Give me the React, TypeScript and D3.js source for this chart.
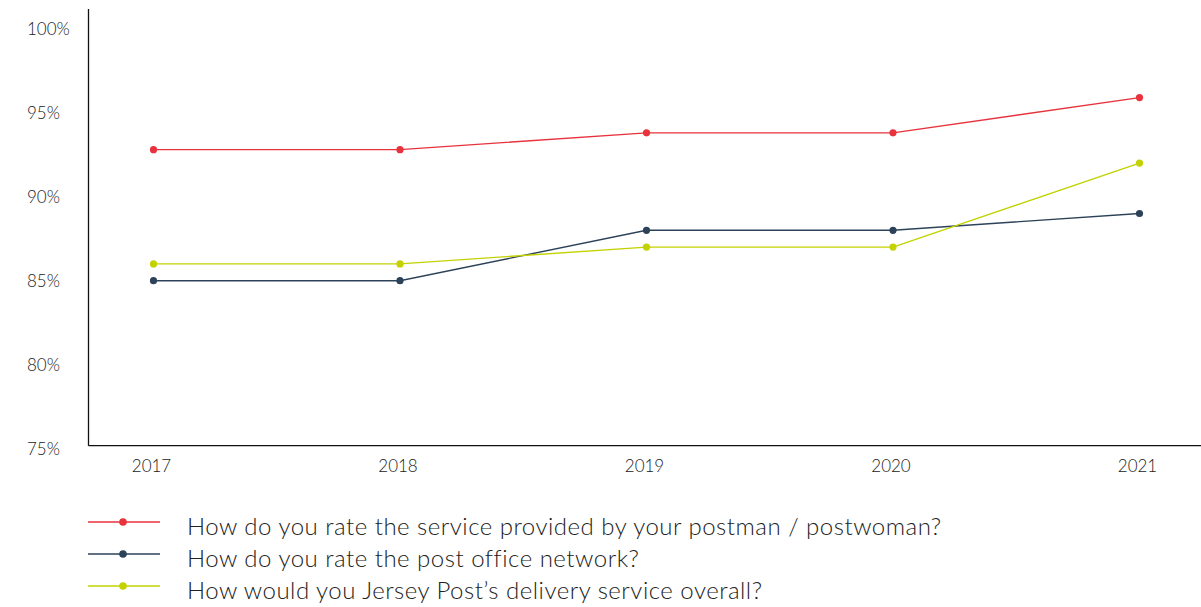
import React from "react";
import * as d3 from "d3";

const years = ["2017", "2018", "2019", "2020", "2021"];
const postmanScores = [92.8, 92.8, 93.8, 93.8, 95.9];
const postOfficeScores = [85, 85, 88, 88, 89];
const overallScores = [86, 86, 87, 87, 92];
const yTicks = [75, 80, 85, 90, 95, 100];

const seriesNames = [
  "How do you rate the service provided by your postman / postwoman?",
  "How do you rate the post office network?",
  "How would you Jersey Post\u2019s delivery service overall?",
];
const seriesColors = ["#e8323c", "#2c4258", "#c3d200"];

const W = 1201;
const H = 607;
const FONT = "Lato, 'Open Sans', sans-serif";

export default function App() {
  const series = [postmanScores, postOfficeScores, overallScores];

  const x = d3
    .scalePoint<string>()
    .domain(years)
    .range([153.5, 1139.5]);
  const y = d3.scaleLinear().domain([75, 100]).range([448.7, 28.7]);

  const axisLeft = 88.5;
  const axisBottom = y(75) - 3; // baseline sits just above the 75% label
  const axisTop = 9;

  const line = d3
    .line<number>()
    .x((_, i) => x(years[i]) as number)
    .y((d) => y(d));

  const legendY = d3.scalePoint<number>().domain([0, 1, 2]).range([522, 586]);

  return (
    <svg
      width={W}
      height={H}
      style={{ position: "absolute", left: 0, top: 0, background: "#fff" }}
      fontFamily={FONT}
    >
      {/* axes */}
      <line x1={axisLeft} x2={axisLeft} y1={axisTop} y2={axisBottom} stroke="#111" strokeWidth={1.3} />
      <line x1={axisLeft} x2={W} y1={axisBottom} y2={axisBottom} stroke="#111" strokeWidth={1.3} />

      {yTicks.map((t) => (
        <text
          key={t}
          x={27}
          y={y(t)}
          dominantBaseline="central"
          fontSize={17}
          fontWeight={300}
          fill="#222"
        >
          {t}%
        </text>
      ))}

      {years.map((yr) => (
        <text
          key={yr}
          x={(x(yr) as number) - 2}
          y={465}
          dominantBaseline="central"
          textAnchor="middle"
          fontSize={17}
          fontWeight={300}
          fill="#222"
        >
          {yr}
        </text>
      ))}

      {/* series */}
      {series.map((vals, si) => (
        <g key={si}>
          <path d={line(vals) ?? ""} fill="none" stroke={seriesColors[si]} strokeWidth={1.4} />
          {vals.map((v, i) => (
            <circle key={i} cx={x(years[i])} cy={y(v)} r={3.6} fill={seriesColors[si]} />
          ))}
        </g>
      ))}

      {/* legend */}
      {seriesNames.map((name, si) => {
        const ly = legendY(si) as number;
        return (
          <g key={name}>
            <line x1={88} x2={160} y1={ly} y2={ly} stroke={seriesColors[si]} strokeWidth={1.4} />
            <circle cx={123} cy={ly} r={3.8} fill={seriesColors[si]} />
            <text
              x={187}
              y={ly + 3}
              dominantBaseline="central"
              fontSize={24}
              fontWeight={300}
              letterSpacing={0.5}
              fill="#222"
            >
              {name}
            </text>
          </g>
        );
      })}
    </svg>
  );
}
